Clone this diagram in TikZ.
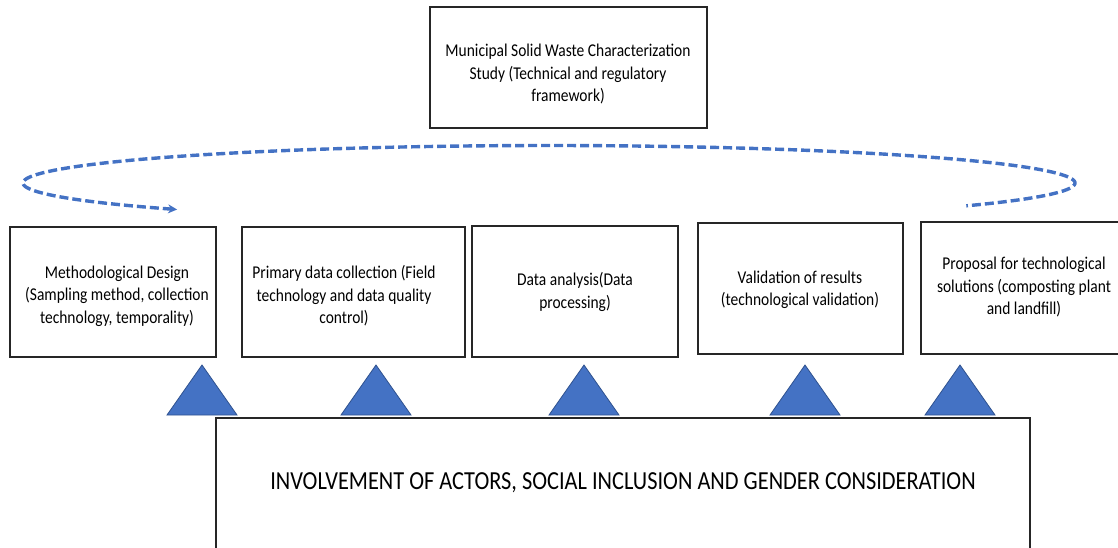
\documentclass[tikz,border=0pt]{standalone}
\usepackage{fontspec}
\setmainfont{Carlito}[FakeStretch=0.86]
\usetikzlibrary{arrows.meta}
\definecolor{loopblue}{HTML}{4472C4}
\definecolor{triedge}{HTML}{2F528F}
\begin{document}
\begin{tikzpicture}[x=1pt,y=-1pt,
  stagebox/.style={draw=black!85, line width=1.3pt, fill=white, inner sep=0pt},
  stagetext/.style={align=center, font=\fontsize{18}{22.5}\selectfont, inner sep=0pt},
  pillar/.style={fill=loopblue, draw=triedge, line width=0.8pt, line join=miter},
  loopline/.style={draw=loopblue, line width=3.4pt, dash pattern=on 9pt off 4pt}]
\useasboundingbox (0,0) rectangle (1118,547);
\clip (0,0) rectangle (1118,547);

% framework box
\node[stagebox, minimum width=277pt, minimum height=121pt] (frame) at (568.5,67.5) {};
\node[stagetext] (frametext) at (568,74)
  {Municipal Solid Waste Characterization\\Study (Technical and regulatory\\framework)};

% feedback loop over the stages
\coordinate (loopstart) at (965,207);
\coordinate (loopend) at (177,209);
\draw[loopline, {Stealth[length=9pt,width=9pt]}-]
  plot[domain=-225:37.5, samples=240, smooth] ({549+526*cos(\x)},{183+37.5*sin(\x)});

% stages
\node[stagebox, minimum width=206pt, minimum height=130pt] (design) at (113,292) {};
\node[stagetext] (designtext) at (117,296)
  {Methodological Design\\(Sampling method, collection\\technology, temporality)};

\node[stagebox, minimum width=223pt, minimum height=130pt] (collect) at (353.5,292) {};
\node[stagetext] (collecttext) at (344,296)
  {Primary data collection (Field\\technology and data quality\\control)};

\node[stagebox, minimum width=206pt, minimum height=131pt] (analysis) at (575,291.5) {};
\node[stagetext] (analysistext) at (575,292)
  {Data analysis(Data\\processing)};

\node[stagebox, minimum width=205pt, minimum height=131pt] (validate) at (800.5,288.5) {};
\node[stagetext] (validatetext) at (800,290)
  {Validation of results\\(technological validation)};

\node[stagebox, minimum width=209pt, minimum height=132pt] (propose) at (1025.5,288) {};
\node[stagetext] (proposetext) at (1024,287)
  {Proposal for technological\\solutions (composting plant\\and landfill)};

% cross-cutting base
\node[stagebox, minimum width=814pt, minimum height=152pt] (base) at (623,494) {};
\node[align=center, inner sep=0pt, font=\fontsize{26}{30}\selectfont] (basetext) at (623,483)
  {INVOLVEMENT OF ACTORS, SOCIAL INCLUSION AND GENDER CONSIDERATION};

% supporting pillars
\foreach \n/\cx in {1/202, 2/376, 3/584, 4/805, 5/960}{
  \coordinate (pillar\n) at (\cx,415);
  \draw[pillar] (pillar\n) ++(-35,0) -- ++(35,-50) -- ++(35,50) -- cycle;
}
\end{tikzpicture}
\end{document}
